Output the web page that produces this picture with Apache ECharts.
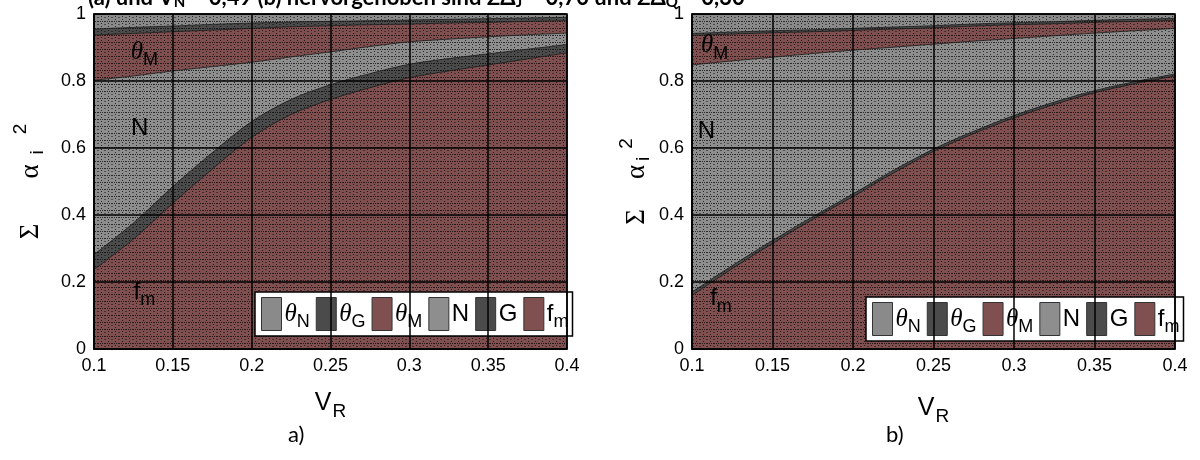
<!DOCTYPE html>
<html><head><meta charset="utf-8">
<script src="https://cdn.jsdelivr.net/npm/echarts@6/dist/echarts.min.js"></script>
<style>html,body{margin:0;padding:0;background:#fff}#c{width:1200px;height:460px}</style>
</head><body><div id="c"></div>
<script>
// ---- data ----
const vR = [0.1,0.125,0.15,0.175,0.2,0.225,0.25,0.275,0.3,0.325,0.35,0.375,0.4];
const seriesNames = ['thetaN','thetaG','thetaM','N','G','fm'];
// panel a) (individual shares, stacked from f_m upward)
const a_fm     = [0.237,0.328,0.435,0.537,0.632,0.700,0.745,0.780,0.810,0.830,0.848,0.866,0.884];
const a_G      = [0.045,0.048,0.050,0.049,0.047,0.045,0.044,0.042,0.040,0.037,0.033,0.029,0.025];
const a_N      = [0.520,0.439,0.345,0.257,0.177,0.127,0.098,0.081,0.067,0.058,0.051,0.043,0.034];
const a_thetaM = [0.135,0.127,0.117,0.109,0.101,0.090,0.078,0.065,0.053,0.048,0.043,0.040,0.037];
const a_thetaG = [0.018,0.018,0.017,0.017,0.016,0.014,0.013,0.012,0.012,0.011,0.011,0.010,0.010];
const a_thetaN = [0.045,0.040,0.036,0.031,0.027,0.024,0.022,0.020,0.018,0.016,0.014,0.012,0.010];
// panel b)
const b_fm     = [0.160,0.240,0.315,0.387,0.455,0.525,0.590,0.643,0.690,0.730,0.765,0.792,0.815];
const b_G      = [0.010,0.009,0.009,0.008,0.008,0.008,0.007,0.007,0.007,0.007,0.006,0.006,0.006];
const b_N      = [0.678,0.611,0.547,0.487,0.429,0.368,0.313,0.269,0.230,0.198,0.172,0.152,0.136];
const b_thetaM = [0.088,0.080,0.073,0.065,0.059,0.054,0.049,0.045,0.041,0.036,0.032,0.028,0.024];
const b_thetaG = [0.006,0.006,0.006,0.006,0.006,0.006,0.006,0.006,0.006,0.006,0.006,0.006,0.006];
const b_thetaN = [0.058,0.054,0.050,0.047,0.043,0.039,0.035,0.030,0.026,0.023,0.019,0.016,0.013];
const xTicks = [0.1,0.15,0.2,0.25,0.3,0.35,0.4];
const yTicks = [0,0.2,0.4,0.6,0.8,1];
const titleParts = '{b|(a) und V}{bs|N}{b| = 0,49 (b) hervorgehoben sind ΣΔ}{bs|J}{b| = 0,70 und ΣΔ}{bs|Q}{b| = 0,30}';

// ---- style ----
const colors = {thetaN:'#8a8a8a', thetaG:'#4b4b4b', thetaM:'#805050', N:'#8e8e8e', G:'#4b4b4b', fm:'#805050'};
function pattern(base){
  const c = document.createElement('canvas'); c.width = 7; c.height = 7;
  const g = c.getContext('2d');
  g.fillStyle = base; g.fillRect(0,0,7,7);
  g.fillStyle = 'rgba(0,0,0,0.7)';
  for (let i=0;i<7;i+=2) g.fillRect(i,0,1,1);
  g.fillRect(3,2,1,1); g.fillRect(3,5,1,1);
  g.fillStyle = 'rgba(0,0,0,0.45)';
  g.fillRect(0,3,1,1); g.fillRect(6,3,1,1);
  return {image:c, repeat:'repeat'};
}
const labelMap = {
  thetaN:'{g|θ}{s|N}', thetaG:'{g|θ}{s|G}', thetaM:'{g|θ}{s|M}',
  N:'{n|N}', G:'{n|G}', fm:'{n|f}{s|m}'
};
const rich = {
  g:{fontFamily:'Liberation Serif', fontStyle:'italic', fontSize:25, color:'#000'},
  n:{fontFamily:'Liberation Sans', fontSize:24, color:'#000'},
  s:{fontFamily:'Liberation Sans', fontSize:18, color:'#000', padding:[16,0,0,0]}
};
const panelData = [
  {fm:a_fm,G:a_G,N:a_N,thetaM:a_thetaM,thetaG:a_thetaG,thetaN:a_thetaN},
  {fm:b_fm,G:b_G,N:b_N,thetaM:b_thetaM,thetaG:b_thetaG,thetaN:b_thetaN}
];
const annot = [
  [{c:[0.132,0.885],t:'{g|θ}{s|M}'},{c:[0.129,0.66],t:'{n|N}'},{c:[0.132,0.17],t:'{n|f}{s|m}'}],
  [{c:[0.114,0.905],t:'{g|θ}{s|M}'},{c:[0.109,0.65],t:'{n|N}'},{c:[0.118,0.15],t:'{n|f}{s|m}'}]
];
const stackOrder = ['fm','G','N','thetaM','thetaG','thetaN'];
const series = [];
[0,1].forEach(p=>{
  // cumulative tops built from the individual shares
  const cum = {}; let run = vR.map(()=>0);
  stackOrder.forEach(k=>{ run = run.map((v,j)=>v+panelData[p][k][j]); cum[k] = run.slice(); });
  stackOrder.slice().reverse().forEach((k)=>{
    const s = {
      name:k, type:'line', xAxisIndex:p, yAxisIndex:p,
      data: vR.map((x,j)=>[x, cum[k][j]]),
      symbol:'none', smooth:0.3,
      lineStyle:{color:'#1a1a1a', width:0.8},
      itemStyle:{color:colors[k], borderColor:'#333', borderWidth:1},
      areaStyle:{color:pattern(colors[k]), opacity:1, origin:'start'},
      z:2
    };
    if (k==='fm'){
      s.markPoint = {
        symbol:'rect', symbolSize:0, silent:true,
        label:{show:true, position:'inside', formatter:(d)=>d.data.t, rich:rich},
        data: annot[p].map(a=>({coord:a.c, t:a.t, value:0}))
      };
    }
    series.push(s);
  });
});
const axisFont = {fontFamily:'Liberation Sans', fontSize:18, color:'#000'};
function xA(i){return {type:'value', gridIndex:i, min:0.1, max:0.4, interval:0.05, z:5,
  name:'{n|V}{s|R}', nameLocation:'middle', nameGap:i?42:37,
  nameTextStyle:{rich:{n:{fontFamily:'Liberation Sans',fontSize:25,color:'#000'},s:{fontFamily:'Liberation Sans',fontSize:19,color:'#000',padding:[16,0,0,1]}}},
  axisLine:{show:true,lineStyle:{color:'#000',width:1.5}}, axisTick:{show:false},
  axisLabel:{...axisFont, margin:8, formatter:v=>String(+v.toFixed(2)), showMaxLabel:true, showMinLabel:true},
  splitLine:{show:true, lineStyle:{color:'#000', width:1.5}}};}
function yA(i){return {type:'value', gridIndex:i, min:0, max:1, interval:0.2, z:5,
  name:'{e|Σ}{a|α}{s|i}{p|2}', nameLocation:'middle', nameGap:i?36:44, nameRotate:90,
  nameTextStyle:{rich:{e:{fontFamily:'Liberation Serif',fontSize:27,color:'#000',padding:[0,i?30:45,0,0]},a:{fontFamily:'Liberation Serif',fontSize:27,color:'#000',padding:[0,i?4:10,0,0]},s:{fontFamily:'Liberation Sans',fontSize:19,color:'#000',padding:[15,i?8:16,0,0]},p:{fontFamily:'Liberation Sans',fontSize:19,color:'#000',padding:[0,0,20,0]}}},
  axisLine:{show:true,lineStyle:{color:'#000',width:1.5}}, axisTick:{show:false},
  axisLabel:{...axisFont, margin:8, formatter:v=>String(+v.toFixed(1))},
  splitLine:{show:true, lineStyle:{color:'#000', width:1.5}}};}
function legend(i,left,top){return {show:true, orient:'horizontal', left:left, top:top, width:360,
  data:seriesNames, icon:'rect', itemWidth:20, itemHeight:33, itemGap:6,
  backgroundColor:'#fff', borderColor:'#000', borderWidth:1.5, padding:[5,4,5,6],
  itemStyle:{borderColor:'#333', borderWidth:1},
  selectedMode:false,
  formatter:n=>labelMap[n], textStyle:{rich:rich, padding:[0,0,0,-2]}};}
const chart = echarts.init(document.getElementById('c'), null, {renderer:'canvas'});
chart.setOption({
  animation:false, backgroundColor:'#fff',
  grid:[{left:94,right:633,top:14,bottom:111, show:true, borderColor:'#000', borderWidth:1.5, z:6},
        {left:692,right:25,top:14,bottom:111, show:true, borderColor:'#000', borderWidth:1.5, z:6}],
  xAxis:[xA(0),xA(1)], yAxis:[yA(0),yA(1)],
  legend:[legend(0,255,292), legend(1,866,297)],
  series:series,
  graphic:[
    {type:'text', left:88, top:-13, style:{text:titleParts, rich:{b:{fontFamily:'Lato', fontWeight:'bold', fontSize:22, fill:'#000'}, bs:{fontFamily:'Lato', fontWeight:'bold', fontSize:15, fill:'#000', padding:[9,0,0,0]}}}},
    {type:'text', left:288, top:424, style:{text:'a)', fontFamily:'Lato', fontSize:22, fill:'#000'}},
    {type:'text', left:886, top:424, style:{text:'b)', fontFamily:'Lato', fontSize:22, fill:'#000'}}
  ]
});
</script></body></html>
